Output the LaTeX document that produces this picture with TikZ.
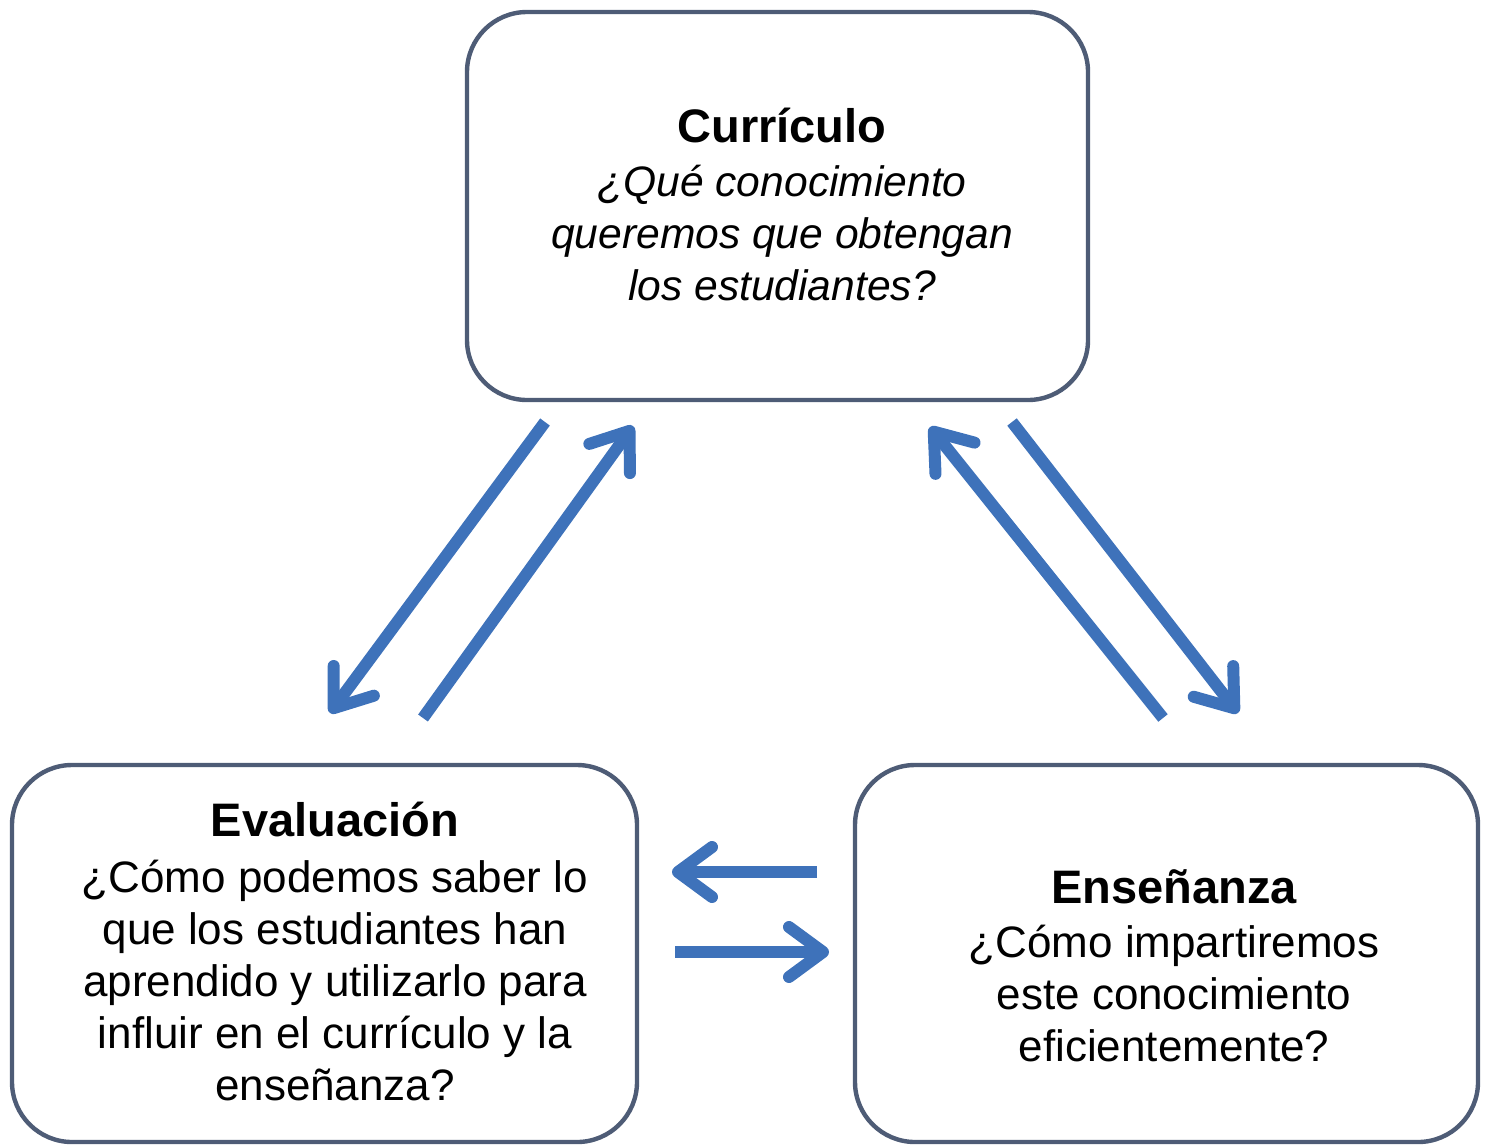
\documentclass[tikz,border=0pt]{standalone}
\usepackage{fontspec}
\setmainfont{Liberation Sans}
\usetikzlibrary{arrows.meta}
\definecolor{boxline}{RGB}{78,92,118}
\definecolor{arrowblue}{RGB}{62,114,186}
\begin{document}
\begin{tikzpicture}[x=0.5pt,y=-0.5pt,
  box/.style={draw=boxline, line width=2.2pt, rounded corners=30pt, fill=white, inner sep=0pt},
  txt/.style={align=center, inner sep=0pt, font=\fontsize{22}{26}\selectfont},
  conn/.style={draw=arrowblue, line width=6pt, -{Straight Barb[length=17pt,width=25pt,round]}}]
\useasboundingbox (0,0) rectangle (1487,1146);
% boxes
\node[box, minimum width=310.5pt, minimum height=194pt] (cur) at (777.5,206) {};
\node[box, minimum width=312.5pt, minimum height=188.5pt] (eva) at (324.5,953.5) {};
\node[box, minimum width=311.5pt, minimum height=188.5pt] (ens) at (1166.5,953.5) {};
% texts
\node[txt] (curtxt) at (782,204) {{\fontsize{23.5}{26}\selectfont\bfseries Currículo}\\[1pt]
  \fontsize{21.3}{26}\selectfont\itshape ¿Qué conocimiento\\ \fontsize{21.3}{26}\selectfont\itshape queremos que obtengan\\ \fontsize{21.3}{26}\selectfont\itshape los estudiantes?};
\node[txt] (evatxt) at (335,951) {{\fontsize{23.5}{26}\selectfont\bfseries Evaluación}\\[2pt]
  ¿Cómo podemos saber lo\\ que los estudiantes han\\ aprendido y utilizarlo para\\ influir en el currículo y la\\ enseñanza?};
\node[txt] (enstxt) at (1174,966) {{\fontsize{23.5}{26}\selectfont\bfseries Enseñanza}\\[1pt]
  ¿Cómo impartiremos\\ este conocimiento\\ eficientemente?};
% arrow end points
\coordinate (a1s) at (545,422);  \coordinate (a1e) at (330,713);
\coordinate (a2s) at (423,718);  \coordinate (a2e) at (633,426);
\coordinate (a3s) at (1163,718); \coordinate (a3e) at (930,427);
\coordinate (a4s) at (1012,422); \coordinate (a4e) at (1238,713);
\coordinate (a5s) at (817,872);  \coordinate (a5e) at (672,872);
\coordinate (a6s) at (675,952);  \coordinate (a6e) at (829,952);
\draw[conn] (a1s) -- (a1e);
\draw[conn] (a2s) -- (a2e);
\draw[conn] (a3s) -- (a3e);
\draw[conn] (a4s) -- (a4e);
\draw[conn] (a5s) -- (a5e);
\draw[conn] (a6s) -- (a6e);
\end{tikzpicture}
\end{document}
